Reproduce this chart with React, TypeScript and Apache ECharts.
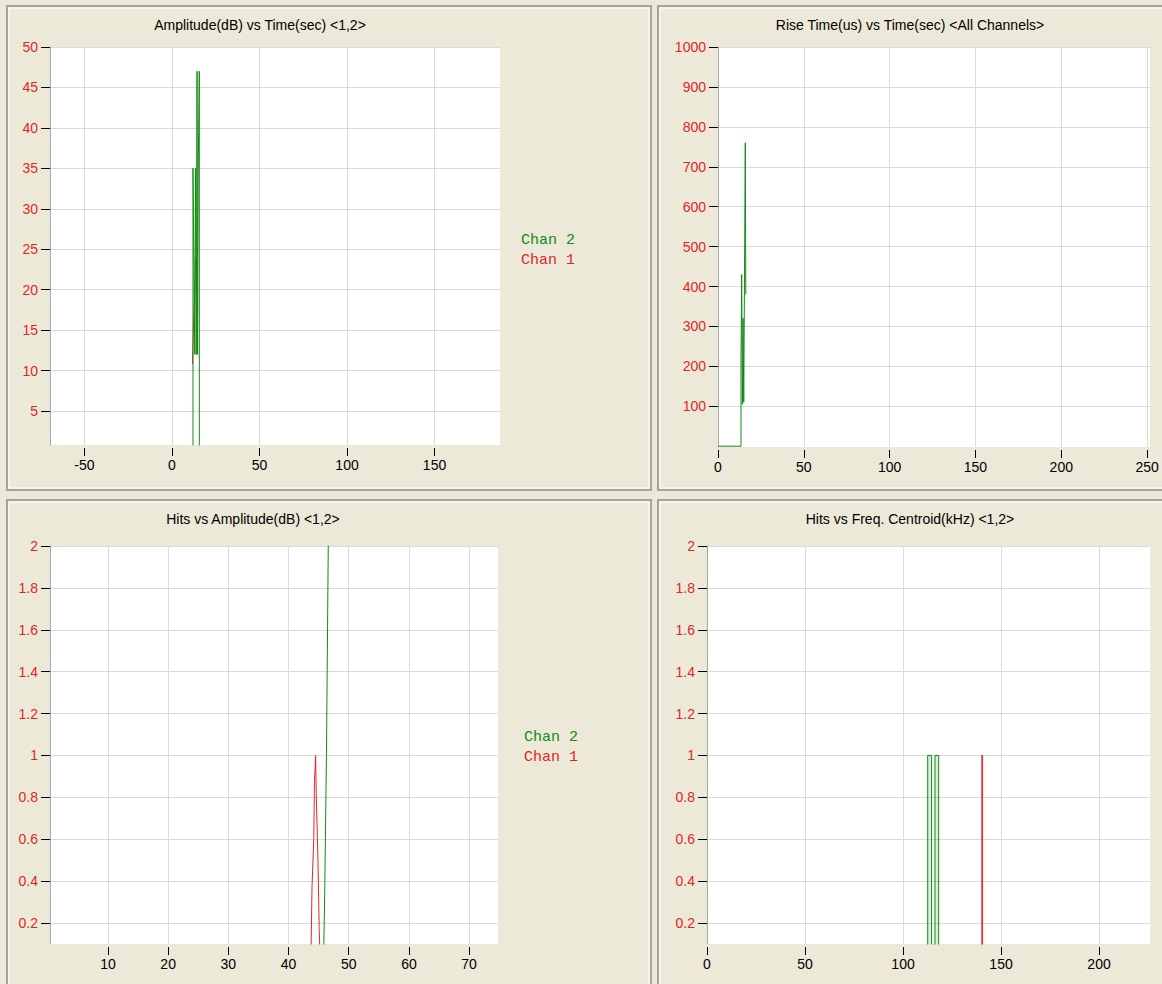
import React, { useEffect, useRef } from "react";
import * as echarts from "echarts";

// ---------- Data ----------
// Top-left: Amplitude(dB) vs Time(sec) <1,2>
const ampTimeChan2: [number, number][] = [
  [12.0, 0], [12.0, 35], [13.0, 12], [13.4, 35], [13.9, 12], [14.3, 47], [14.6, 12], [15.0, 35], [15.6, 47], [15.6, 0],
];
const ampTimeChan1: [number, number][] = [
  [11.8, 10.8], [11.8, 12.0], [13.3, 22.5], [13.3, 24.0],
];
const ampTimeXTicks = [-50, 0, 50, 100, 150];
const ampTimeYTicks = [5, 10, 15, 20, 25, 30, 35, 40, 45, 50];

// Top-right: Rise Time(us) vs Time(sec) <All Channels>
const riseTimeAll: [number, number][] = [
  [0, 0], [13.4, 0], [13.4, 215], [13.8, 430], [14.2, 105], [14.6, 320], [15.0, 110], [15.9, 760], [16.2, 380],
];
const riseXTicks = [0, 50, 100, 150, 200, 250];
const riseYTicks = [100, 200, 300, 400, 500, 600, 700, 800, 900, 1000];

// Bottom-left: Hits vs Amplitude(dB) <1,2>
const hitsAmpChan2: [number, number][] = [
  [45.8, 0], [46.0, 0.32], [46.3, 1.0], [46.5, 1.67], [46.6, 2.0], [46.6, 2.2],
];
const hitsAmpChan1: [number, number][] = [
  [43.7, 0], [43.9, 0.37], [44.2, 0.61], [44.3, 0.87], [44.5, 1.0], [44.6, 0.82], [44.9, 0.49], [45.1, 0.16], [45.3, 0],
];
const hitsAmpXTicks = [10, 20, 30, 40, 50, 60, 70];
const hitsYTicks = [0.2, 0.4, 0.6, 0.8, 1, 1.2, 1.4, 1.6, 1.8, 2];

// Bottom-right: Hits vs Freq. Centroid(kHz) <1,2>
const hitsFreqChan2: [number, number][] = [
  [112.6, 0], [112.6, 1], [114.6, 1], [114.6, 0], [116.3, 0], [116.3, 1], [118.2, 1], [118.2, 0],
];
const hitsFreqChan1: [number, number][] = [
  [140.2, 0], [140.2, 1], [140.6, 1], [140.6, 0],
];
const hitsFreqXTicks = [0, 50, 100, 150, 200];

const titles = [
  "Amplitude(dB) vs Time(sec) <1,2>",
  "Rise Time(us) vs Time(sec) <All Channels>",
  "Hits vs Amplitude(dB) <1,2>",
  "Hits vs Freq. Centroid(kHz) <1,2>",
];
const chanNames = ["Chan 2", "Chan 1"];

// ---------- Styles ----------
const GREEN = "#138A13";
const RED = "#E0262A";
const BEIGE = "#ECE9D8";
const FONT = "'Liberation Sans', Arial, sans-serif";
const MONO = "'Liberation Mono', 'DejaVu Sans Mono', monospace";

const plain = (v: number) => String(v);

function xAxisOf(gridIndex: number, min: number, max: number, ticks: number[]) {
  return {
    type: "value",
    gridIndex,
    min,
    max,
    offset: 3,
    axisLine: { show: false, onZero: false },
    axisTick: { show: true, length: 8, customValues: ticks, lineStyle: { color: "#000", width: 1 } },
    axisLabel: { customValues: ticks, color: "#000", fontSize: 14, fontFamily: FONT, margin: 10, formatter: plain },
    splitLine: { show: true, lineStyle: { color: "#DADADA", width: 1 } },
  };
}

function yAxisOf(gridIndex: number, min: number, max: number, ticks: number[]) {
  return {
    type: "value",
    gridIndex,
    min,
    max,
    axisLine: { show: true, onZero: false, lineStyle: { color: "#A8A8A8", width: 1 } },
    axisTick: { show: true, length: 9, customValues: ticks, lineStyle: { color: "#000", width: 1 } },
    axisLabel: { customValues: ticks, color: RED, fontSize: 14, fontFamily: FONT, margin: 12, formatter: plain },
    splitLine: { show: true, lineStyle: { color: "#DADADA", width: 1 } },
  };
}

function lineSeries(name: string, xi: number, data: [number, number][], color: string, z: number, fill?: string) {
  const s: any = {
    type: "line",
    name,
    xAxisIndex: xi,
    yAxisIndex: xi,
    data,
    showSymbol: false,
    symbol: "none",
    lineStyle: { color, width: 1 },
    itemStyle: { color },
    clip: true,
    z,
  };
  if (fill) s.areaStyle = { color: fill };
  return s;
}

function panel(x: number, y: number, w: number, h: number) {
  return [
    { type: "rect", z: -10, silent: true, shape: { x, y, width: w, height: h }, style: { fill: BEIGE, stroke: "#A7A496", lineWidth: 2 } },
    { type: "rect", z: -9, silent: true, shape: { x: x + 2, y: y + 2, width: w - 4, height: h - 4 }, style: { fill: "none", stroke: "#FFFFFF", lineWidth: 1 } },
  ];
}

function titleText(text: string, cx: number, cy: number) {
  return {
    type: "text",
    z: 10,
    x: cx,
    y: cy,
    style: { text, fill: "#000", fontSize: 14, fontFamily: FONT, align: "center", verticalAlign: "middle" },
  };
}

function legendText(text: string, x: number, y: number, color: string) {
  return {
    type: "text",
    z: 10,
    x,
    y,
    style: { text, fill: color, fontSize: 15, fontFamily: MONO, align: "left", verticalAlign: "middle" },
  };
}

export default function App() {
  const ref = useRef<HTMLDivElement>(null);
  useEffect(() => {
    if (!ref.current) return;
    const chart = echarts.init(ref.current, undefined, { renderer: "svg" });
    const option = {
      animation: false,
      backgroundColor: BEIGE,
      grid: [
        { left: 50, top: 47, width: 450, height: 398, show: true, backgroundColor: "#fff", borderWidth: 0 },
        { left: 718, top: 47, width: 432, height: 400, show: true, backgroundColor: "#fff", borderWidth: 0 },
        { left: 50, top: 546, width: 448, height: 398, show: true, backgroundColor: "#fff", borderWidth: 0 },
        { left: 707, top: 546, width: 443, height: 398, show: true, backgroundColor: "#fff", borderWidth: 0 },
      ],
      xAxis: [
        xAxisOf(0, -69.7, 187.4, ampTimeXTicks),
        xAxisOf(1, 0, 251.7, riseXTicks),
        xAxisOf(2, 0.37, 74.8, hitsAmpXTicks),
        xAxisOf(3, 0, 226, hitsFreqXTicks),
      ],
      yAxis: [
        yAxisOf(0, 0.8, 50, ampTimeYTicks),
        yAxisOf(1, -2, 1000, riseYTicks),
        yAxisOf(2, 0.1, 2, hitsYTicks),
        yAxisOf(3, 0.1, 2, hitsYTicks),
      ],
      series: [
        lineSeries(chanNames[1], 0, ampTimeChan1, RED, 2),
        lineSeries(chanNames[0], 0, ampTimeChan2, GREEN, 3),
        lineSeries(chanNames[0], 1, riseTimeAll, GREEN, 3),
        lineSeries(chanNames[1], 2, hitsAmpChan1, RED, 2),
        lineSeries(chanNames[0], 2, hitsAmpChan2, GREEN, 3),
        lineSeries(chanNames[1], 3, hitsFreqChan1, RED, 2),
        lineSeries(chanNames[0], 3, hitsFreqChan2, GREEN, 3, "rgba(19,138,19,0.22)"),
      ],
      graphic: [
        ...panel(7, 6, 644, 484),
        ...panel(658, 6, 510, 484),
        ...panel(7, 500, 644, 494),
        ...panel(658, 500, 510, 494),
        titleText(titles[0], 260, 25),
        titleText(titles[1], 910, 25),
        titleText(titles[2], 253, 519),
        titleText(titles[3], 910, 519),
        legendText(chanNames[0], 521, 240, GREEN),
        legendText(chanNames[1], 521, 260, RED),
        legendText(chanNames[0], 524, 737, GREEN),
        legendText(chanNames[1], 524, 757, RED),
      ],
    };
    chart.setOption(option as any);
    return () => chart.dispose();
  }, []);
  return <div ref={ref} style={{ position: "fixed", left: 0, top: 0, width: 1162, height: 984 }} />;
}
